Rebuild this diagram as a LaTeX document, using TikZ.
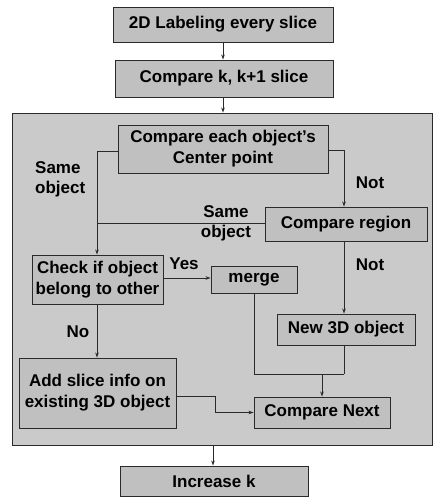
\documentclass[tikz,border=0pt]{standalone}
\usepackage{fontspec}
\setmainfont{Liberation Sans}
\usetikzlibrary{arrows.meta}
\definecolor{regfill}{HTML}{CACACA}
\definecolor{boxfill}{HTML}{C0C0C0}
\definecolor{edge}{HTML}{2A2A2A}
\tikzset{
  stepbox/.style={draw=edge, line width=0.9pt, fill=boxfill, inner sep=0pt, align=center,
    font=\fontsize{17}{21}\selectfont\bfseries},
  lbl/.style={inner sep=0pt, font=\fontsize{17}{20}\selectfont\bfseries},
  conn/.style={draw=edge, line width=0.8pt},
  arr/.style={conn, -{Stealth[length=5pt,width=3.5pt]}},
}
\begin{document}
\begin{tikzpicture}[x=1pt,y=-1pt]
\useasboundingbox (0,0) rectangle (435,497);
% region
\node[draw=edge, line width=0.9pt, fill=regfill, minimum width=420pt, minimum height=332pt, inner sep=0pt] (reg) at (222,279) {};
% boxes
\node[stepbox, minimum width=220pt, minimum height=35pt] (b1) at (223,24.5) {2D Labeling every slice};
\node[stepbox, minimum width=218pt, minimum height=37pt] (b2) at (224,78.5) {Compare k, k+1 slice};
\node[stepbox, minimum width=210pt, minimum height=48pt] (cb) at (223,149) {Compare each object's\\Center point};
\node[stepbox, minimum width=162pt, minimum height=34pt] (cr) at (346,224) {Compare region};
\node[stepbox, minimum width=131pt, minimum height=49pt] (ck) at (97.5,279.5) {Check if object\\belong to other};
\node[stepbox, minimum width=86pt, minimum height=27pt] (mg) at (254,279.5) {merge};
\node[stepbox, minimum width=138pt, minimum height=31pt] (n3) at (346,329.5) {New 3D object};
\node[stepbox, minimum width=157pt, minimum height=70pt] (as) at (97.5,393) {Add slice info on\\existing 3D object};
\node[stepbox, minimum width=136pt, minimum height=31pt] (cn) at (322,412.5) {Compare Next};
\node[stepbox, minimum width=188pt, minimum height=30pt] (ik) at (214,481) {Increase k};
% coordinates
\coordinate (cbl) at (cb.west |- 0,151);
\coordinate (cbl2) at (97,151);
\coordinate (cbr) at (cb.east |- 0,150);
\coordinate (cbr2) at (344,150);
\coordinate (join) at (97,223);
\coordinate (crl) at (cr.west |- 0,223);
\coordinate (mj) at (254,374);
\coordinate (nj) at (344,374);
\coordinate (cj) at (322,374);
\coordinate (asr) at (as.east |- 0,396);
\coordinate (asr2) at (215,396);
\coordinate (asr3) at (215,412.5);
% connectors
\draw[arr] (b1.south -| 223,0) -- (b2.north -| 223,0);
\draw[arr] (b2.south -| 223,0) -- (reg.north -| 223,0);
\draw[arr] (cbl) -- (cbl2) -- (ck.north -| cbl2);
\draw[arr] (cbr) -- (cbr2) -- (cr.north -| cbr2);
\draw[conn] (crl) -- (join);
\draw[arr] (ck.east |- 0,278) -- (mg.west |- 0,278);
\draw[arr] (cr.south -| cbr2) -- (n3.north -| cbr2);
\draw[conn] (mg.south) -- (mj) -- (nj);
\draw[conn] (n3.south -| nj) -- (nj);
\draw[arr] (cj) -- (cn.north -| cj);
\draw[arr] (ck.south -| cbl2) -- (as.north -| cbl2);
\draw[arr] (asr) -- (asr2) -- (asr3) -- (cn.west);
\draw[arr] (reg.south -| 213,0) -- (ik.north -| 213,0);
% labels
\node[lbl, align=left, anchor=west] (l1) at (35,179) {Same\\object};
\node[lbl] (l2) at (370,183) {Not};
\node[lbl, align=center] (l3) at (226,223) {Same\\object};
\node[lbl] (l4) at (184,264) {Yes};
\node[lbl] (l5) at (370,265) {Not};
\node[lbl] (l6) at (78,332) {No};
\end{tikzpicture}
\end{document}
